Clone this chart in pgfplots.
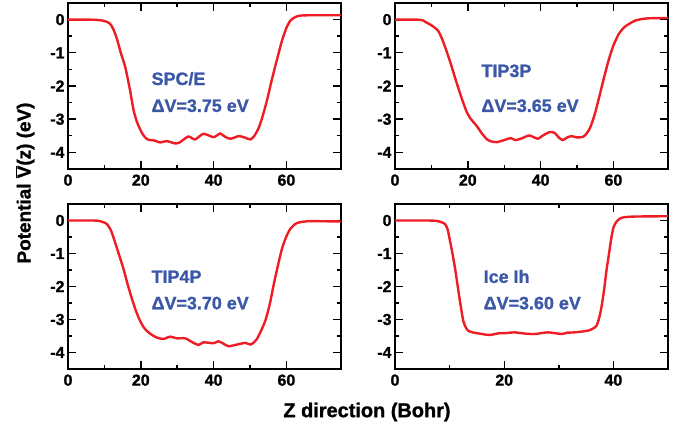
\documentclass[border=0pt]{standalone}
\usepackage{fontspec}
\setmainfont{Liberation Sans Bold}[FakeBold=1.2]
\usepackage{pgfplots}
\pgfplotsset{compat=1.18}

\definecolor{curvered}{HTML}{EE1C25}
\definecolor{labelblue}{HTML}{3B57A7}

\pgfplotsset{
  panel/.style={
    scale only axis, width=273bp, height=166bp, anchor=south west,
    xmin=0, xmax=75, ymin=-4.5, ymax=0.5,
    xtick={0,20,40,60}, ytick={-4,-3,-2,-1,0},
    minor x tick num=1, minor y tick num=1,
    tick align=inside,
    major tick length=8bp, minor tick length=4bp,
    axis line style={line width=1.6bp},
    every tick/.style={black, line width=1.4bp},
    /pgf/number format/assume math mode=true,
    tick label style={font=\fontsize{16}{16}\selectfont},
    xticklabel style={yshift=-2bp},
    clip=false,
  },
  curve/.style={curvered, line width=2.4bp, smooth, tension=0.4, no marks},
}
\tikzset{note/.style={labelblue, anchor=base west, font=\fontsize{18}{18}\selectfont}}

\begin{document}
\begin{tikzpicture}
\useasboundingbox (0,0) rectangle (685bp,431bp);

% SPC/E
\begin{axis}[panel, at={(68bp,262bp)}]
\addplot[curve] coordinates {(0,0)(5,0)(8,-0.01)(9.5,-0.03)(10.5,-0.06)(11.6,-0.13)(12.5,-0.3)(13.5,-0.6)(14.5,-1.0)(15.7,-1.42)(17,-2.1)(18,-2.72)(19,-3.1)(20.3,-3.41)(21.2,-3.55)(22.1,-3.62)(23,-3.63)(24,-3.65)(25.3,-3.70)(27.1,-3.66)(29.4,-3.73)(30.5,-3.71)(31.2,-3.66)(33.1,-3.52)(34.9,-3.61)(37.2,-3.44)(40,-3.54)(41.8,-3.43)(43,-3.52)(44.6,-3.59)(46.9,-3.51)(48.5,-3.55)(50.1,-3.61)(51.2,-3.5)(52.4,-3.26)(53.5,-2.9)(54.7,-2.42)(55.8,-1.9)(56.9,-1.42)(57.9,-1.0)(58.8,-0.63)(60,-0.25)(61.1,-0.03)(62.5,0.08)(63.8,0.12)(66,0.13)(75,0.13)};
\node[note] at (axis cs:22,-1.97) {SPC/E};
\node[note] at (axis cs:22,-2.78) {ΔV=3.75 eV};
\end{axis}

% TIP3P
\begin{axis}[panel, at={(395bp,262bp)}]
\addplot[curve] coordinates {(0,0)(6,0)(7.6,-0.02)(8.5,-0.08)(10,-0.17)(11.8,-0.33)(13,-0.6)(14.1,-0.93)(15.3,-1.32)(16.4,-1.72)(17.6,-2.13)(18.8,-2.52)(19.7,-2.78)(20.6,-2.96)(21.5,-3.08)(22.5,-3.21)(23.8,-3.42)(25.3,-3.61)(26.5,-3.67)(28,-3.69)(30,-3.63)(31.8,-3.57)(33.1,-3.63)(35,-3.57)(36.9,-3.49)(39.2,-3.59)(40.5,-3.5)(42.4,-3.39)(43.8,-3.41)(45,-3.55)(46.1,-3.63)(47.3,-3.55)(48.5,-3.51)(50,-3.55)(51.7,-3.53)(52.7,-3.42)(53.6,-3.26)(54.8,-2.88)(55.9,-2.42)(57.3,-1.8)(58.7,-1.22)(60,-0.78)(61.5,-0.43)(62.9,-0.24)(64.3,-0.13)(66,-0.03)(68,0.02)(70,0.04)(75,0.05)};
\node[note] at (axis cs:22.8,-1.73) {TIP3P};
\node[note] at (axis cs:22.8,-2.78) {ΔV=3.65 eV};
\end{axis}

% TIP4P
\begin{axis}[panel, at={(68bp,62bp)}, height=165bp]
\addplot[curve] coordinates {(0,0)(7,0)(8.8,-0.02)(10.6,-0.1)(11.8,-0.3)(12.9,-0.65)(14,-1.03)(15.2,-1.45)(16.3,-1.9)(17.5,-2.35)(18.7,-2.75)(19.8,-3.04)(20.7,-3.22)(21.6,-3.34)(22.7,-3.44)(23.9,-3.52)(25,-3.57)(26.2,-3.59)(27.2,-3.55)(28.1,-3.52)(29.9,-3.57)(32.2,-3.57)(34,-3.68)(35.9,-3.77)(37.2,-3.69)(40,-3.72)(41.3,-3.66)(42.5,-3.72)(44.1,-3.81)(46.4,-3.76)(48.7,-3.71)(50.1,-3.76)(51,-3.7)(51.9,-3.59)(53,-3.35)(54.2,-3.04)(55.4,-2.55)(56.5,-1.95)(57.7,-1.35)(58.8,-0.85)(60,-0.48)(61.1,-0.25)(62.5,-0.1)(63.8,-0.05)(66.6,-0.02)(75,-0.03)};
\node[note] at (axis cs:22,-1.89) {TIP4P};
\node[note] at (axis cs:22,-2.69) {ΔV=3.70 eV};
\end{axis}

% Ice Ih
\begin{axis}[panel, at={(395bp,62bp)}, height=165bp, xmax=50, xtick={0,20,40}]
\addplot[curve] coordinates {(0,0)(6,0)(7.9,-0.02)(9.1,-0.1)(9.6,-0.25)(10,-0.55)(10.5,-0.98)(11,-1.45)(11.45,-1.95)(11.9,-2.45)(12.5,-3.04)(13,-3.25)(13.4,-3.34)(14.2,-3.39)(15.2,-3.42)(17.3,-3.47)(18.9,-3.42)(20.5,-3.41)(21.9,-3.39)(24,-3.43)(25.6,-3.44)(28,-3.39)(30.5,-3.44)(31.5,-3.4)(32.9,-3.39)(35.3,-3.34)(36.2,-3.28)(36.9,-3.19)(37.4,-2.95)(37.8,-2.64)(38.3,-2.1)(38.7,-1.55)(39.2,-1.0)(39.6,-0.55)(40,-0.22)(40.5,-0.05)(41.2,0.06)(42,0.1)(44,0.12)(50,0.13)};
\node[note] at (axis cs:15.6,-1.89) {Ice Ih};
\node[note] at (axis cs:15.6,-2.69) {ΔV=3.60 eV};
\end{axis}

\node[font=\fontsize{20}{20}\selectfont] at (367bp,19bp) {Z direction (Bohr)};
\node[font=\fontsize{19}{19}\selectfont, rotate=90] at (25bp,248bp) {Potential $\overline{\hbox{V}}$(z) (eV)};
\end{tikzpicture}
\end{document}
